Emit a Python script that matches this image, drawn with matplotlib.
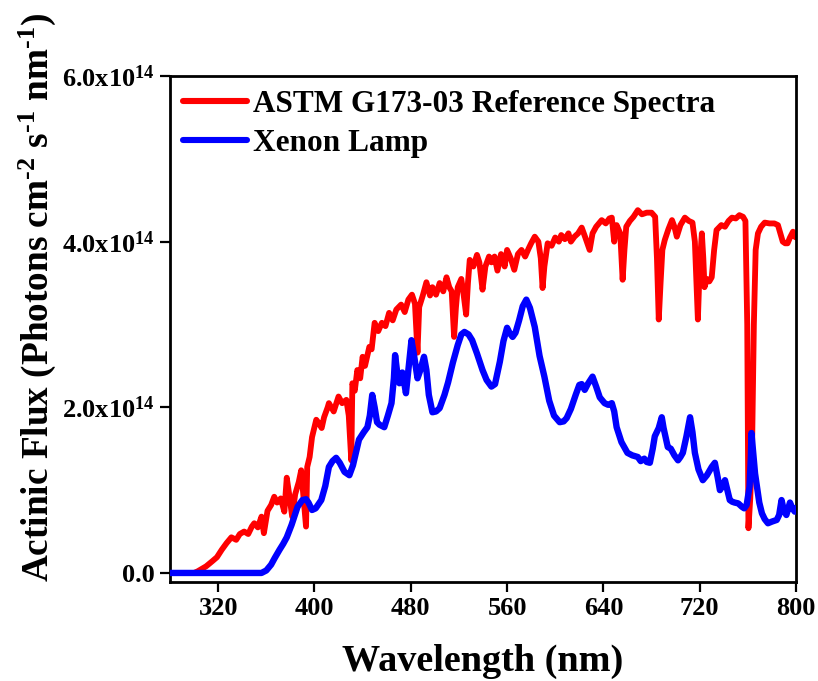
import numpy as np
import matplotlib
matplotlib.use("Agg")
import matplotlib.pyplot as plt
from matplotlib.ticker import FixedLocator, FixedFormatter

plt.rcParams['font.family'] = ['Liberation Serif', 'DejaVu Serif']
plt.rcParams['font.weight'] = 'bold'
plt.rcParams['mathtext.fontset'] = 'custom'
plt.rcParams['mathtext.rm'] = 'Liberation Serif:bold'
plt.rcParams['mathtext.bf'] = 'Liberation Serif:bold'
plt.rcParams['mathtext.it'] = 'Liberation Serif:bold'
plt.rcParams['mathtext.default'] = 'bf'

# ---- data (flux in units of 1e14 photons cm-2 s-1 nm-1) ----
astm_wl = [280, 300, 303, 310, 315, 319, 323, 327, 331, 335, 338, 341.6, 345, 348, 350, 353, 356, 358,
           361, 364, 366.6, 369, 372, 375, 377, 379, 381.5, 384, 387, 389, 391, 393, 394, 396, 398,
           401.5, 404, 406, 408, 411, 412, 416, 420, 423, 426.5, 428.5, 430.6, 431.5, 433.5, 435.6, 438,
           440, 442, 445.6, 447.5, 450, 453, 456, 459, 462, 465, 468, 472, 475, 478, 481, 483.5, 485.6,
           487, 490, 493, 496, 498, 501, 504, 507, 509.7, 512, 514, 516, 517.5, 519, 522, 524, 526,
           527.5, 529, 532, 535, 537, 539.6, 542, 545, 547, 549.6, 552, 555, 558, 560, 563, 566, 569,
           572, 575, 578, 580, 583, 586, 588, 589.5, 591, 593.7, 597, 600, 603, 605, 608, 611, 613,
           616, 619, 622, 625, 628.6, 631, 634, 638.6, 642, 645, 647, 649, 651, 654, 656, 657.5, 659,
           662, 665, 668.6, 672, 676, 680, 683, 684.5, 686, 687.5, 689, 691, 694, 697, 699, 701, 704,
           707.7, 711, 714, 716, 718.5, 720, 721.8, 723, 724, 726, 728, 730, 732, 734, 738, 741, 744,
           746.8, 750, 753, 756, 758, 759.5, 760.5, 762, 763.5, 765, 766.5, 768.4, 771, 774, 778, 782,
           785, 787, 789, 791, 793, 795, 797.5, 799, 800]
astm_flux = [0, 0, 0.02, 0.08, 0.14, 0.19, 0.28, 0.36, 0.43, 0.40, 0.47, 0.50, 0.47, 0.56, 0.60, 0.55, 0.68, 0.48,
             0.75, 0.82, 0.92, 0.85, 0.90, 0.74, 1.15, 0.95, 0.68, 0.95, 1.10, 1.24, 0.90, 0.56, 1.28, 1.40, 1.64,
             1.85, 1.80, 1.75, 1.88, 2.00, 2.05, 1.95, 2.13, 2.05, 2.09, 1.90, 1.36, 2.29, 2.20, 2.45, 2.35,
             2.61, 2.50, 2.73, 2.70, 3.02, 2.92, 3.02, 2.98, 3.14, 3.05, 3.18, 3.24, 3.15, 3.30, 3.36, 3.25, 2.66,
             3.21, 3.35, 3.51, 3.35, 3.45, 3.36, 3.50, 3.40, 3.57, 3.45, 3.40, 2.85, 3.20, 3.45, 3.55, 3.35, 3.12,
             3.50, 3.78, 3.70, 3.84, 3.75, 3.42, 3.70, 3.82, 3.75, 3.82, 3.65, 3.85, 3.70, 3.90, 3.80, 3.66, 3.85,
             3.90, 3.82, 3.92, 3.98, 4.06, 4.00, 3.80, 3.44, 3.70, 3.98, 3.95, 4.05, 4.00, 4.08, 4.03, 4.10, 4.00,
             4.06, 4.10, 4.17, 4.05, 3.90, 4.10, 4.18, 4.26, 4.22, 4.28, 4.29, 4.00, 4.20, 4.10, 3.54, 3.90, 4.18,
             4.25, 4.30, 4.38, 4.33, 4.35, 4.35, 4.30, 3.80, 3.06, 3.50, 3.90, 4.02, 4.15, 4.26, 4.18, 4.06, 4.20,
             4.29, 4.25, 4.23, 4.00, 3.06, 3.70, 4.10, 3.80, 3.45, 3.55, 3.52, 3.57, 3.90, 4.14, 4.20, 4.18, 4.25,
             4.29, 4.28, 4.32, 4.30, 4.25, 3.00, 0.54, 0.90, 1.50, 3.00, 3.90, 4.10, 4.18, 4.23, 4.22, 4.22,
             4.20, 4.10, 4.00, 3.98, 3.98, 4.05, 4.12, 4.06, 4.05]

xenon_wl = [280, 356, 360, 364, 367, 371, 374, 377, 381, 386, 390, 393, 395, 398, 401, 405.7, 409, 412, 415,
            418, 421, 425, 429, 432, 437, 441, 444, 446, 448, 450, 452, 454, 458, 461, 464, 466, 467, 468.5,
            470.6, 473, 474.5, 476, 478, 480.6, 482.5, 485.6, 488, 491, 493, 495, 498, 501, 504, 508, 511,
            515, 519, 522, 524.6, 528, 531, 535, 539.6, 543, 547, 550, 554, 557, 560, 562, 564.6, 567, 570,
            573, 576, 579, 583, 587, 591, 595, 599, 603.7, 607, 609.5, 613, 617, 620, 622, 624.5, 627, 631,
            634, 637, 641, 644, 647, 649, 651, 655, 660, 664, 668.6, 671, 674, 676, 678.6, 681, 682.7, 684,
            686, 688.5, 690, 693.5, 696, 699, 702, 704, 706, 709, 712, 714, 716, 719, 722.6, 726, 730,
            732.6, 735, 736.8, 739, 741, 743, 745, 747, 749, 752, 755, 757, 759, 761.4, 762.5, 763, 764.5,
            766, 767.6, 769.5, 771.7, 774, 776.7, 780, 784, 786, 788, 790, 792, 795, 797, 799, 800]
xenon_flux = [0, 0, 0.03, 0.10, 0.18, 0.28, 0.35, 0.43, 0.58, 0.80, 0.88, 0.89, 0.85, 0.76, 0.78, 0.88, 1.05, 1.28, 1.35,
              1.39, 1.33, 1.22, 1.18, 1.30, 1.61, 1.70, 1.76, 1.90, 2.15, 2.00, 1.82, 1.79, 1.76, 1.90, 2.05, 2.35, 2.63, 2.45,
              2.29, 2.42, 2.30, 2.17, 2.45, 2.81, 2.65, 2.35, 2.45, 2.61, 2.45, 2.15, 1.94, 1.95, 1.99, 2.15, 2.30,
              2.54, 2.75, 2.88, 2.91, 2.88, 2.81, 2.65, 2.45, 2.33, 2.25, 2.28, 2.55, 2.80, 2.96, 2.90, 2.85, 2.90, 3.05,
              3.22, 3.30, 3.20, 2.97, 2.62, 2.37, 2.08, 1.90, 1.82, 1.83, 1.87, 1.98, 2.15, 2.27, 2.28, 2.21, 2.28, 2.37,
              2.25, 2.12, 2.05, 2.03, 2.05, 1.95, 1.76, 1.58, 1.45, 1.42, 1.40, 1.35, 1.38, 1.34, 1.33, 1.50, 1.65, 1.69,
              1.75, 1.88, 1.75, 1.52, 1.50, 1.42, 1.36, 1.40, 1.45, 1.65, 1.88, 1.70, 1.45, 1.25, 1.12, 1.18, 1.28,
              1.33, 1.15, 1.00, 1.05, 1.12, 1.00, 0.88, 0.86, 0.85, 0.84, 0.80, 0.78, 0.82, 1.04, 1.40, 1.69, 1.45,
              1.20, 1.04, 0.85, 0.72, 0.65, 0.60, 0.62, 0.64, 0.70, 0.88, 0.75, 0.70, 0.85, 0.78, 0.74, 0.78]

x_ticks = [320, 400, 480, 560, 640, 720, 800]
y_ticks = [0.0, 2.0e14, 4.0e14, 6.0e14]
y_tick_labels = ["0.0", "2.0x10$^{14}$", "4.0x10$^{14}$", "6.0x10$^{14}$"]
series_labels = ["ASTM G173-03 Reference Spectra", "Xenon Lamp"]

fig = plt.figure(figsize=(8.18, 6.81), dpi=100)
ax = fig.add_axes([0.2078, 0.1454, 0.7653, 0.743])

ax.plot(astm_wl, np.array(astm_flux) * 1e14, color='#ff0000', lw=4.2,
        solid_joinstyle='round', solid_capstyle='round', label=series_labels[0], zorder=2)
ax.plot(xenon_wl, np.array(xenon_flux) * 1e14, color='#0000ff', lw=4.6,
        solid_joinstyle='round', solid_capstyle='round', label=series_labels[1], zorder=3)

ax.set_xlim(280, 800)
ax.set_ylim(-1.09e13, 6.0e14)
ax.xaxis.set_major_locator(FixedLocator(x_ticks))
ax.yaxis.set_major_locator(FixedLocator(y_ticks))
ax.yaxis.set_major_formatter(FixedFormatter(y_tick_labels))

for s in ax.spines.values():
    s.set_linewidth(2.0)
ax.tick_params(axis='both', direction='out', length=7, width=1.6, labelsize=19)
ax.tick_params(axis='x', pad=4)
ax.tick_params(axis='y', pad=4)
for lab in ax.get_xticklabels() + ax.get_yticklabels():
    lab.set_fontweight('bold')

ax.set_xlabel("Wavelength (nm)", fontsize=27.5, fontweight='bold', labelpad=17)
ax.set_ylabel(r"Actinic Flux (Photons cm$^{\text{-}2}$ s$^{\text{-}1}$ nm$^{\text{-}1}$)",
              fontsize=26.8, fontweight='bold')
ax.yaxis.set_label_coords(-0.179, 0.562)

leg = ax.legend(loc='upper left', bbox_to_anchor=(0.021, 0.972), frameon=False,
                fontsize=22.5, handlelength=2.05, handletextpad=0.2, borderpad=0,
                borderaxespad=0, labelspacing=0.3)
for line in leg.get_lines():
    line.set_linewidth(4.4)
    line.set_solid_capstyle('round')
for t in leg.get_texts():
    t.set_fontweight('bold')

fig.savefig("out.png", dpi=100)
